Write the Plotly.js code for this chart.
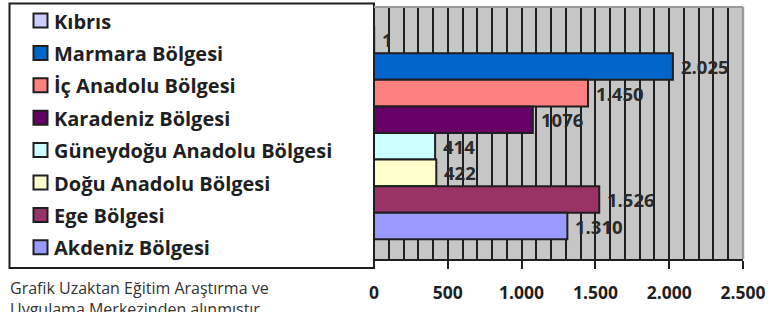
<!DOCTYPE html>
<html>
<head>
<meta charset="utf-8">
<script src="https://cdn.plot.ly/plotly-3.0.1.min.js"></script>
<style>html,body{margin:0;padding:0;background:#fff;}#chart{width:771px;height:312px;}</style>
</head>
<body>
<div id="chart"></div>
<script>
// ---- data (legend order, top to bottom) ----
var regions = ['Kıbrıs', 'Marmara Bölgesi', 'İç Anadolu Bölgesi', 'Karadeniz Bölgesi',
               'Güneydoğu Anadolu Bölgesi', 'Doğu Anadolu Bölgesi', 'Ege Bölgesi', 'Akdeniz Bölgesi'];
var values = [1, 2025, 1450, 1076, 414, 422, 1526, 1310];
var valueLabels = ['1', '2.025', '1.450', '1076', '414', '422', '1.526', '1.310'];
var colors = ['#CCCCFF', '#0066CC', '#FF8080', '#660066', '#CCFFFF', '#FFFFCC', '#993366', '#9999FF'];
var xTickVals = [0, 500, 1000, 1500, 2000, 2500];
var footnote = 'Grafik Uzaktan Eğitim Araştırma ve<br>Uygulama Merkezinden alınmıştır.';

// ---- layout geometry (pixels) ----
var W = 771, H = 312;
var PL = 374, PR = 743, PT = 7, PB = 259;
function px(x) { return (x - PL) / (PR - PL); }
function py(y) { return (PB - y) / (PB - PT); }

var FONT = '"Open Sans", sans-serif';
var DARK = '#1f1f1f';

var trace = {
  type: 'bar',
  orientation: 'h',
  x: values,
  y: regions,
  marker: { color: colors, line: { color: DARK, width: 2 } },
  hoverinfo: 'none',
  showlegend: false
};

var shapes = [];
var annotations = [];

// legend frame
shapes.push({ type: 'rect', xref: 'paper', yref: 'paper', layer: 'above',
  x0: px(9.5), x1: px(374), y0: py(268), y1: py(3.5),
  line: { color: DARK, width: 2 }, fillcolor: 'rgba(255,255,255,1)' });

var rowTop = 20.5, rowStep = 32.4, sq = 14;
for (var i = 0; i < regions.length; i++) {
  var cy = rowTop + i * rowStep;
  shapes.push({ type: 'rect', xref: 'paper', yref: 'paper', layer: 'above',
    x0: px(33.5), x1: px(33.5 + sq), y0: py(cy + sq / 2), y1: py(cy - sq / 2),
    fillcolor: colors[i], line: { color: DARK, width: 2 } });
  annotations.push({ xref: 'paper', yref: 'paper', x: px(52), y: py(cy + 0.5),
    xanchor: 'left', yanchor: 'middle', showarrow: false, text: regions[i],
    font: { family: FONT, size: 20, color: DARK, weight: 700 } });
  // value labels
  annotations.push({ xref: 'x', yref: 'y', x: values[i], y: regions[i],
    xanchor: 'left', yanchor: 'middle', xshift: 6, yshift: 0, showarrow: false,
    text: valueLabels[i],
    font: { family: FONT, size: 18.5, color: '#2a2a2a', weight: 700 } });
}

// gray border top & right of plot area
shapes.push({ type: 'line', xref: 'paper', yref: 'paper', layer: 'above',
  x0: 0, x1: 1, y0: 1, y1: 1, line: { color: '#9a9a9a', width: 2 } });
shapes.push({ type: 'line', xref: 'paper', yref: 'paper', layer: 'above',
  x0: 1, x1: 1, y0: 0, y1: 1, line: { color: '#9a9a9a', width: 2.5 } });

annotations.push({ xref: 'paper', yref: 'paper', x: px(8), y: py(275),
  xanchor: 'left', yanchor: 'top', align: 'left', showarrow: false,
  text: footnote, font: { family: FONT, size: 16, color: '#333333' } });

var layout = {
  width: W, height: H,
  margin: { l: PL, r: W - PR, t: PT, b: H - PB, pad: 0 },
  paper_bgcolor: '#ffffff',
  plot_bgcolor: '#c6c6c6',
  separators: ',.',
  bargap: 0,
  showlegend: false,
  xaxis: {
    range: [0, 2500], tickvals: xTickVals, tickformat: ',',
    showgrid: true, gridcolor: DARK, gridwidth: 2,
    minor: { dtick: 100, showgrid: true, gridcolor: DARK, gridwidth: 2 },
    zeroline: false,
    showline: true, linecolor: DARK, linewidth: 2,
    ticks: 'outside', ticklen: 8, tickwidth: 2, tickcolor: DARK,
    ticklabelstandoff: 9,
    tickfont: { family: FONT, size: 17.5, color: DARK, weight: 700 },
    fixedrange: true
  },
  yaxis: {
    type: 'category', categoryorder: 'array', categoryarray: regions.slice().reverse(),
    range: [-1.24, 8.24],
    showticklabels: false, showgrid: false, zeroline: false,
    showline: true, linecolor: DARK, linewidth: 2, ticks: '',
    fixedrange: true
  },
  shapes: shapes,
  annotations: annotations
};

Plotly.newPlot('chart', [trace], layout, { staticPlot: true, displayModeBar: false });
</script>
</body>
</html>
